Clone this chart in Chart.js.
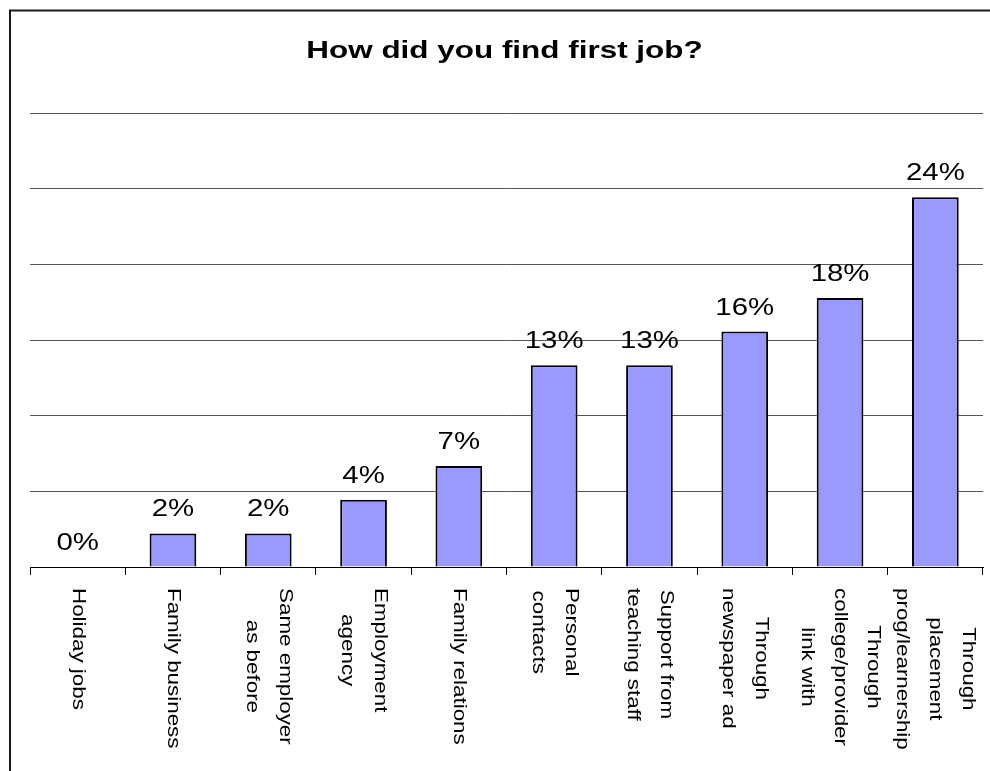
<!DOCTYPE html>
<html>
<head>
<meta charset="utf-8">
<script src="https://cdn.jsdelivr.net/npm/chart.js@4"></script>
<style>
  body { margin: 0; background: #fff; }
  #wrap { width: 990px; height: 771px; }
</style>
</head>
<body>
<div id="wrap"><canvas id="myChart"></canvas></div>
<script>
var chartTitle = 'How did you find first job?';

// category labels, one entry per line of text
var categories = [
    ['Holiday jobs'],
    ['Family business'],
    ['Same employer', 'as before'],
    ['Employment', 'agency'],
    ['Family relations'],
    ['Personal', 'contacts'],
    ['Support from', 'teaching staff'],
    ['Through', 'newspaper ad'],
    ['Through', 'college/provider', 'link with'],
    ['Through', 'placement', 'prog/learnership']
];

// share of respondents, in percent
var percents = [0, 2.22, 2.22, 4.44, 6.67, 13.33, 13.33, 15.56, 17.78, 24.44];

var yTicks = [0, 5, 10, 15, 20, 25, 30];

var FONT = 'Arial, "Liberation Sans", sans-serif';

// text in the original chart is drawn wide, so stretch it along the line
function wideText(ctx, text, x, y, sx) {
    ctx.save();
    ctx.translate(x, y);
    ctx.scale(sx, 1);
    ctx.fillText(text, 0, 0);
    ctx.restore();
}

var frameAndText = {
    id: 'frameAndText',
    beforeDraw: function(chart) {
        var ctx = chart.ctx;
        ctx.save();
        ctx.fillStyle = '#fff';
        ctx.fillRect(0, 0, chart.width, chart.height);
        ctx.strokeStyle = '#1a1a1a';
        ctx.lineWidth = 2;
        ctx.strokeRect(10, 10.5, 1000, 800);
        ctx.restore();
    },
    afterDraw: function(chart) {
        var ctx = chart.ctx;
        var area = chart.chartArea;
        var xScale = chart.scales.x;
        var meta = chart.getDatasetMeta(0);

        ctx.save();
        ctx.fillStyle = '#000';
        ctx.textAlign = 'center';

        // title
        ctx.font = 'bold 24px ' + FONT;
        ctx.textBaseline = 'alphabetic';
        wideText(ctx, chartTitle, (area.left + area.right) / 2 - 2, 58, 1.31);

        // value labels above the bars
        ctx.font = '23.5px ' + FONT;
        meta.data.forEach(function(bar, i) {
            wideText(ctx, Math.round(percents[i]) + '%', bar.x, bar.y - 17, 1.25);
        });

        // category labels, turned to read downwards
        ctx.font = '18.5px ' + FONT;
        ctx.textBaseline = 'middle';
        var sx = 1.21, lineH = 33;
        categories.forEach(function(lines, i) {
            var cx = xScale.getPixelForValue(i);
            var maxW = 0;
            lines.forEach(function(l) { maxW = Math.max(maxW, ctx.measureText(l).width); });
            ctx.save();
            ctx.translate(cx, area.bottom + 21);
            ctx.rotate(Math.PI / 2);
            ctx.scale(sx, 1);
            lines.forEach(function(l, k) {
                ctx.fillText(l, maxW / 2, (k - (lines.length - 1) / 2) * lineH);
            });
            ctx.restore();
        });
        ctx.restore();
    }
};

var ctx = document.getElementById('myChart').getContext('2d');
var chart = new Chart(ctx, {
    type: 'bar',
    data: {
        labels: categories.map(function(c) { return c.join(' '); }),
        datasets: [{
            data: percents,
            backgroundColor: '#9999ff',
            borderColor: '#000',
            borderWidth: 2,
            barPercentage: 0.49,
            categoryPercentage: 1
        }]
    },
    options: {
        responsive: true,
        maintainAspectRatio: false,
        animation: false,
        devicePixelRatio: 1,
        layout: { padding: { left: 30, right: 7, top: 113, bottom: 196 } },
        plugins: {
            legend: { display: false },
            title: { display: false },
            tooltip: { enabled: false }
        },
        scales: {
            x: {
                ticks: { display: false },
                grid: {
                    drawOnChartArea: false,
                    drawTicks: true,
                    tickLength: 8,
                    color: '#000'
                },
                border: { display: true, color: '#000', width: 1 }
            },
            y: {
                min: yTicks[0],
                max: yTicks[yTicks.length - 1],
                afterBuildTicks: function(scale) {
                    scale.ticks = yTicks.map(function(v) { return { value: v }; });
                },
                ticks: { display: false },
                grid: {
                    drawTicks: false,
                    color: function(c) { return c.tick && c.tick.value === 0 ? '#000' : '#555'; }
                },
                border: { display: false }
            }
        }
    },
    plugins: [frameAndText]
});
</script>
</body>
</html>
